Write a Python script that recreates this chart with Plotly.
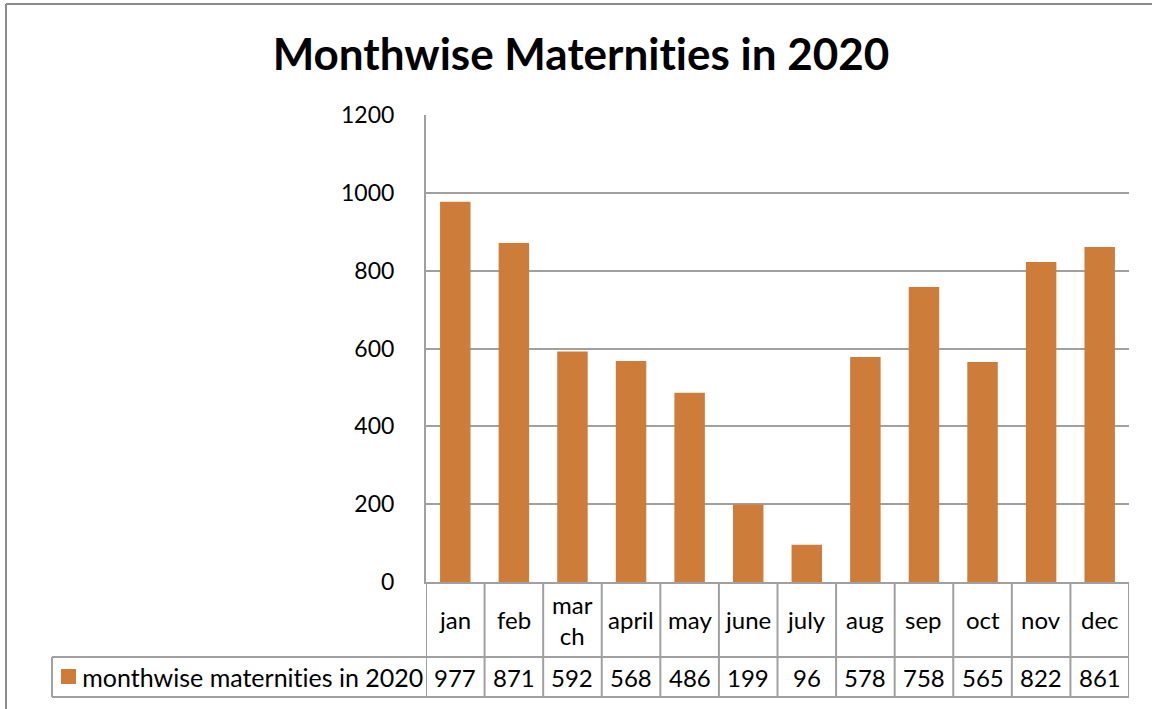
import plotly.graph_objects as go

months = ["jan", "feb", "march", "april", "may", "june", "july", "aug", "sep", "oct", "nov", "dec"]
month_labels = ["jan", "feb", "mar<br>ch", "april", "may", "june", "july", "aug", "sep", "oct", "nov", "dec"]
values = [977, 871, 592, 568, 486, 199, 96, 578, 758, 565, 822, 861]
series_name = "monthwise maternities in 2020"
y_ticks = [0, 200, 400, 600, 800, 1000, 1200]

W, H = 1152, 709
L, R, T, B = 426, 1129, 115, 582
PW, PH = R - L, B - T
BAR = "#CD7C3A"
GRID = "#A0A0A0"
FONT = "Lato"

def px_x(p):
    return (p - L) / PW

def px_y(p):
    return (B - p) / PH

fig = go.Figure()
fig.add_trace(go.Bar(x=months, y=values, marker=dict(color=BAR, line=dict(width=0)),
                     width=0.52, name=series_name, showlegend=False))

shapes = []
annotations = []
row1_bot, row2_bot, leg_left = 657, 697, 52
axis_y = 582
for yy in (row1_bot, row2_bot):
    shapes.append(dict(type="line", xref="paper", yref="paper", x0=px_x(leg_left), x1=1,
                       y0=px_y(yy), y1=px_y(yy), line=dict(color=GRID, width=2)))
n = len(months)
for i in range(n + 1):
    xv = i - 0.5
    shapes.append(dict(type="line", xref="x", yref="paper", x0=xv, x1=xv,
                       y0=0, y1=px_y(row2_bot), line=dict(color=GRID, width=2)))
shapes.append(dict(type="line", xref="paper", yref="paper", x0=px_x(leg_left), x1=px_x(leg_left),
                   y0=px_y(row1_bot), y1=px_y(row2_bot), line=dict(color=GRID, width=2)))
shapes.append(dict(type="rect", xref="paper", yref="paper", x0=px_x(61), x1=px_x(76),
                   y0=px_y(684), y1=px_y(669), fillcolor=BAR, line=dict(width=0)))
# chart border (left and top edges visible)
shapes.append(dict(type="line", xref="paper", yref="paper", x0=px_x(6), x1=px_x(6),
                   y0=px_y(4), y1=px_y(760), line=dict(color="#8C8C8C", width=2)))
shapes.append(dict(type="line", xref="paper", yref="paper", x0=px_x(6), x1=px_x(1200),
                   y0=px_y(4), y1=px_y(4), line=dict(color="#8C8C8C", width=2)))

for m, lab, v in zip(months, month_labels, values):
    annotations.append(dict(x=m, xref="x", yref="paper", y=px_y((axis_y + row1_bot) / 2),
                            text=lab, showarrow=False, xanchor="center", yanchor="middle",
                            font=dict(family=FONT, size=24, color="black")))
    annotations.append(dict(x=m, xref="x", yref="paper", y=px_y((row1_bot + row2_bot) / 2),
                            text=str(v), showarrow=False, xanchor="center", yanchor="middle",
                            font=dict(family=FONT, size=24, color="black")))
annotations.append(dict(x=px_x(80), xref="paper", yref="paper", y=px_y((row1_bot + row2_bot) / 2),
                        text=series_name, showarrow=False, xanchor="left", yanchor="middle",
                        font=dict(family=FONT, size=25, color="black")))

fig.update_layout(
    width=W, height=H,
    margin=dict(l=L, r=W - R, t=T, b=H - B, pad=0),
    paper_bgcolor="white", plot_bgcolor="white",
    title=dict(text="<b>Monthwise Maternities in 2020</b>", x=581 / W, xanchor="center",
               y=1 - 55 / H, yanchor="middle",
               font=dict(family=FONT, size=44, color="black")),
    xaxis=dict(showticklabels=False, showgrid=False, zeroline=False, showline=True,
               linecolor=GRID, linewidth=2, range=[-0.5, n - 0.5], fixedrange=True),
    yaxis=dict(range=[0, 1200], tickvals=y_ticks, ticktext=[str(t) for t in y_ticks],
               showgrid=True, gridcolor=GRID, gridwidth=2, zeroline=False,
               showline=True, linecolor=GRID, linewidth=2, ticks="",
               ticklabelstandoff=25,
               tickfont=dict(family=FONT, size=23, color="black")),
    shapes=shapes, annotations=annotations, bargap=0.48,
)
post = ("document.body.style.margin='0';document.body.style.overflow='hidden';"
        "var s=document.createElement('style');"
        "s.textContent='svg text{font-variant-ligatures:none;font-feature-settings:\"liga\" 0;}';"
        "document.head.appendChild(s);")
fig.write_html("out.html", config={"displayModeBar": False}, post_script=post)
